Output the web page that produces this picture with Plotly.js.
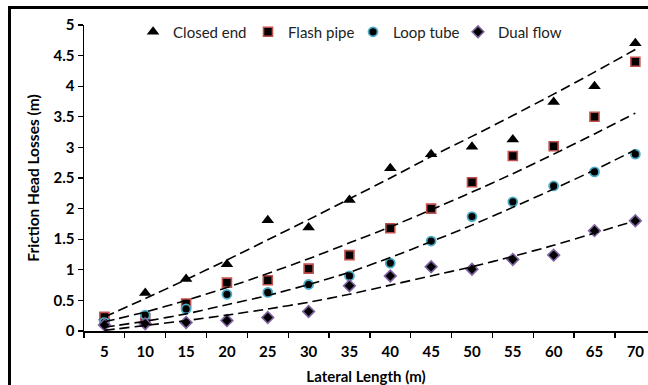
<!DOCTYPE html>
<html>
<head>
<meta charset="utf-8">
<script src="https://cdn.plot.ly/plotly-3.0.1.min.js"></script>
<style>
  html, body { margin: 0; padding: 0; background: #fff; overflow: hidden; }
  #wrap { position: relative; width: 648px; height: 385px; overflow: hidden; }
  #chart { width: 648px; height: 385px; }
  #frame { position: absolute; left: 8px; top: 6px; width: 700px; height: 420px;
           border-left: 3px solid #000; border-top: 3px solid #000; pointer-events: none; }
</style>
</head>
<body>
<div id="wrap">
  <div id="chart"></div>
  <div id="frame"></div>
</div>
<script>
const categories = ['5','10','15','20','25','30','35','40','45','50','55','60','65','70'];

const closedEnd = [0.22,0.62,0.85,1.09,1.81,1.69,2.14,2.66,2.89,3.01,3.13,3.74,4.00,4.70];
const flashPipe = [0.23,0.21,0.45,0.79,0.83,1.02,1.24,1.68,2.00,2.43,2.86,3.02,3.50,4.40];
const loopTube  = [0.14,0.26,0.36,0.60,0.63,0.76,0.90,1.11,1.47,1.87,2.11,2.37,2.60,2.89];
const dualFlow  = [0.10,0.12,0.14,0.17,0.22,0.32,0.74,0.90,1.05,1.01,1.17,1.24,1.64,1.80];

const closedTrend = [0.23,0.53,0.84,1.16,1.49,1.82,2.16,2.50,2.85,3.18,3.52,3.87,4.23,4.60];
const flashTrend  = [0.15,0.31,0.50,0.71,0.94,1.18,1.44,1.70,1.98,2.27,2.57,2.89,3.22,3.56];
const loopTrend   = [0.06,0.16,0.28,0.43,0.58,0.76,0.96,1.20,1.46,1.73,2.02,2.32,2.63,2.96];
const dualTrend   = [0.01,0.09,0.17,0.26,0.36,0.47,0.60,0.75,0.90,1.05,1.22,1.40,1.60,1.80];

const seriesNames = ['Closed end','Flash pipe','Loop tube','Dual flow'];

const FONT = 'Lato, "Open Sans", "DejaVu Sans", sans-serif';

function markerTrace(name, y, marker, legendId) {
  return { type: 'scatter', mode: 'markers', name: name, x: categories, y: y,
           marker: marker, cliponaxis: false, legend: legendId };
}
function trendTrace(y) {
  return { type: 'scatter', mode: 'lines', x: categories, y: y, showlegend: false,
           hoverinfo: 'skip',
           line: { color: '#000', width: 1.6, dash: '10px,5px', shape: 'spline', smoothing: 0.6 } };
}

const data = [
  markerTrace(seriesNames[0], closedEnd, { symbol: 'triangle-up', size: 11, color: '#000', line: { width: 0 } }, 'legend'),
  markerTrace(seriesNames[1], flashPipe, { symbol: 'square', size: 9, color: '#000', line: { color: '#C0504D', width: 1.6 } }, 'legend2'),
  markerTrace(seriesNames[2], loopTube,  { symbol: 'circle', size: 9, color: '#000', line: { color: '#4BACC6', width: 1.8 } }, 'legend3'),
  markerTrace(seriesNames[3], dualFlow,  { symbol: 'diamond', size: 9, color: '#000', line: { color: '#8064A2', width: 1.6 } }, 'legend4'),
  trendTrace(closedTrend),
  trendTrace(flashTrend),
  trendTrace(loopTrend),
  trendTrace(dualTrend)
];

function legendAt(xPaper) {
  return { orientation: 'h', x: xPaper, xanchor: 'left', y: 0.977, yanchor: 'middle',
           bgcolor: 'rgba(0,0,0,0)', font: { family: FONT, size: 15, color: '#222' } };
}

const layout = {
  width: 648, height: 385,
  margin: { l: 84, r: 0, t: 25, b: 54, pad: 0 },
  paper_bgcolor: '#fff', plot_bgcolor: '#fff',
  font: { family: FONT, color: '#000' },
  showlegend: true,
  legend:  legendAt(0.0870),
  legend2: legendAt(0.2908),
  legend3: legendAt(0.4770),
  legend4: legendAt(0.6631),
  xaxis: {
    type: 'category', range: [-0.5, 13.31],
    showline: true, linecolor: '#000', linewidth: 1.5,
    ticks: 'outside', tickson: 'boundaries', ticklen: 5, tickwidth: 1.3, tickcolor: '#000',
    ticklabelstandoff: 6,
    tickfont: { family: FONT, size: 15, weight: 'bold', color: '#000' },
    showgrid: false, zeroline: false,
    title: { text: 'Lateral Length (m)', standoff: 17,
             font: { family: FONT, size: 15, weight: 'bold', color: '#000' } },
    automargin: false
  },
  yaxis: {
    range: [0, 5], dtick: 0.5, tick0: 0,
    showline: true, linecolor: '#000', linewidth: 1.5,
    ticks: 'outside', ticklen: 5, tickwidth: 1.3, tickcolor: '#000',
    tickfont: { family: FONT, size: 15, weight: 'bold', color: '#000' },
    showgrid: false, zeroline: false,
    title: { text: 'Friction Head Losses (m)', standoff: 10,
             font: { family: FONT, size: 15.5, weight: 'bold', color: '#000' } },
    automargin: false
  }
};

Plotly.newPlot('chart', data, layout, { displayModeBar: false, staticPlot: true });
</script>
</body>
</html>
